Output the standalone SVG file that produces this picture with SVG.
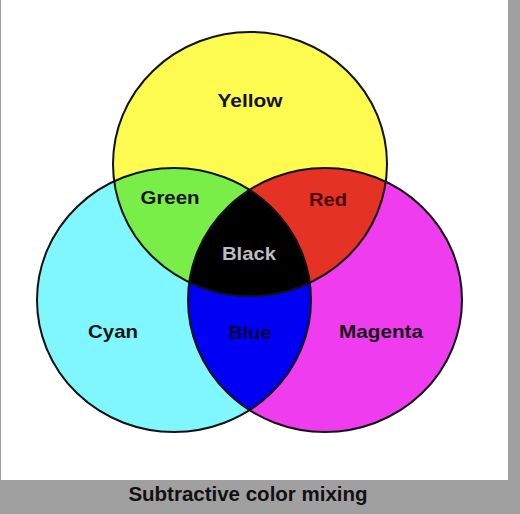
<svg xmlns="http://www.w3.org/2000/svg" width="520" height="514" viewBox="0 0 520 514">
  <defs>
    <style>
      .lbl { font-family: "Liberation Sans", Arial, sans-serif; font-weight: bold; font-size: 19px; text-anchor: middle; fill: #141414; }
      .cap { font-family: "Liberation Sans", Arial, sans-serif; font-weight: bold; font-size: 20.5px; text-anchor: middle; fill: #111111; }
      .edge { fill: none; stroke: #111111; stroke-width: 2; }
    </style>
    <clipPath id="clipY"><ellipse cx="250" cy="164" rx="137" ry="132"/></clipPath>
    <clipPath id="clipC"><ellipse cx="174" cy="300" rx="137" ry="132"/></clipPath>
  </defs>
  <rect x="0" y="0" width="520" height="514" fill="#a0a0a0"/>
  <rect x="1" y="0" width="507" height="480" fill="#ffffff"/>

  <g id="yellow"><ellipse cx="250" cy="164" rx="137" ry="132" fill="#fdfb50"/></g>
  <g id="cyan"><ellipse cx="174" cy="300" rx="137" ry="132" fill="#80f7ff"/></g>
  <g id="magenta"><ellipse cx="325" cy="300" rx="137" ry="132" fill="#ee3cee"/></g>
  <g id="green" clip-path="url(#clipY)"><ellipse cx="174" cy="300" rx="137" ry="132" fill="#7aee48"/></g>
  <g id="red" clip-path="url(#clipY)"><ellipse cx="325" cy="300" rx="137" ry="132" fill="#e43224"/></g>
  <g id="blue" clip-path="url(#clipC)"><ellipse cx="325" cy="300" rx="137" ry="132" fill="#0000f2"/></g>
  <g id="black" clip-path="url(#clipY)"><g clip-path="url(#clipC)"><ellipse cx="325" cy="300" rx="137" ry="132" fill="#000000"/></g></g>

  <g id="outlines">
    <ellipse class="edge" cx="250" cy="164" rx="137" ry="132"/>
    <ellipse class="edge" cx="174" cy="300" rx="137" ry="132"/>
    <ellipse class="edge" cx="325" cy="300" rx="137" ry="132"/>
  </g>

  <g id="labels">
    <text class="lbl" x="250" y="107" textLength="65" lengthAdjust="spacingAndGlyphs">Yellow</text>
    <text class="lbl" x="170" y="204" textLength="59" lengthAdjust="spacingAndGlyphs">Green</text>
    <text class="lbl" x="328" y="206" textLength="38" lengthAdjust="spacingAndGlyphs" fill="#4a0a08" style="fill:#4a0a08">Red</text>
    <text class="lbl" x="249" y="260" textLength="54" lengthAdjust="spacingAndGlyphs" style="fill:#bdbdbd">Black</text>
    <text class="lbl" x="113" y="338" textLength="50" lengthAdjust="spacingAndGlyphs">Cyan</text>
    <text class="lbl" x="250" y="339" textLength="43" lengthAdjust="spacingAndGlyphs" style="fill:#000040">Blue</text>
    <text class="lbl" x="381" y="338" textLength="84" lengthAdjust="spacingAndGlyphs">Magenta</text>
  </g>
  <text class="cap" x="248" y="501">Subtractive color mixing</text>
</svg>
